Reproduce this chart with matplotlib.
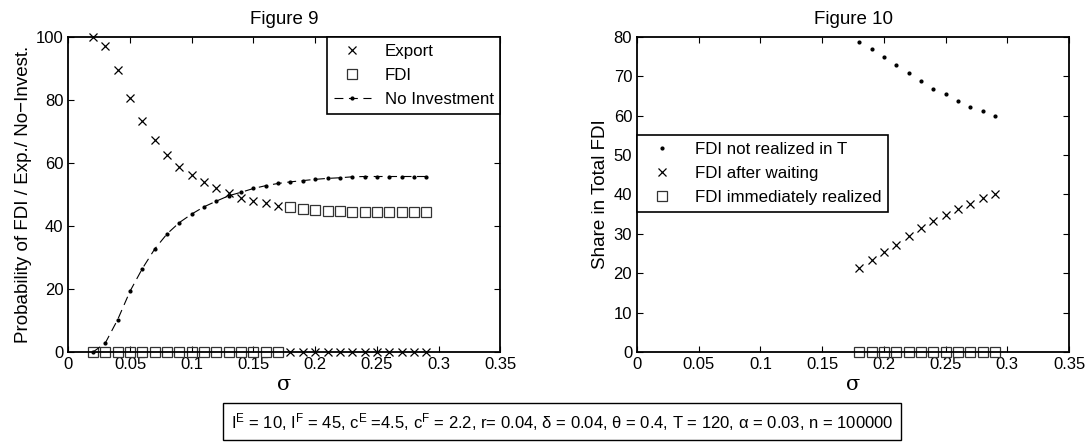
import matplotlib
matplotlib.use('Agg')
import matplotlib.pyplot as plt

plt.rcParams['font.family'] = ['Liberation Sans', 'DejaVu Sans']
plt.rcParams['mathtext.default'] = 'regular'

# Figure 9 data
sigma9 = [0.02, 0.03, 0.04, 0.05, 0.06, 0.07, 0.08, 0.09, 0.10, 0.11, 0.12, 0.13, 0.14, 0.15,
          0.16, 0.17, 0.18, 0.19, 0.20, 0.21, 0.22, 0.23, 0.24, 0.25, 0.26, 0.27, 0.28, 0.29]
export = [100, 97.0, 89.6, 80.6, 73.4, 67.2, 62.4, 58.8, 56.2, 53.8, 51.9, 50.5, 49.0, 47.9,
          47.3, 46.5, 0, 0, 0, 0, 0, 0, 0, 0, 0, 0, 0, 0]
fdi = [0, 0, 0, 0, 0, 0, 0, 0, 0, 0, 0, 0, 0, 0,
       0, 0, 45.9, 45.4, 45.1, 44.8, 44.6, 44.4, 44.3, 44.3, 44.3, 44.3, 44.3, 44.3]
no_inv = [0, 2.9, 10.3, 19.3, 26.5, 32.7, 37.5, 41.1, 43.8, 46.1, 47.9, 49.6, 50.7, 51.9,
          52.8, 53.5, 54.0, 54.4, 54.8, 55.1, 55.3, 55.6, 55.7, 55.7, 55.7, 55.7, 55.7, 55.7]

# Figure 10 data
sigma10 = [0.18, 0.19, 0.20, 0.21, 0.22, 0.23, 0.24, 0.25, 0.26, 0.27, 0.28, 0.29]
not_realized = [78.7, 76.8, 74.8, 72.9, 70.7, 68.7, 66.8, 65.4, 63.8, 62.3, 61.2, 59.8]
after_wait = [21.4, 23.3, 25.3, 27.2, 29.4, 31.4, 33.3, 34.7, 36.2, 37.7, 39.0, 40.2]
immediate = [0] * 12

xticks = [0, 0.05, 0.1, 0.15, 0.2, 0.25, 0.3, 0.35]
xticklabels = ['0', '0.05', '0.1', '0.15', '0.2', '0.25', '0.3', '0.35']

fig = plt.figure(figsize=(10.91, 4.44), dpi=100)
ax1 = fig.add_axes([0.0626, 0.207, 0.396, 0.710])
ax2 = fig.add_axes([0.5839, 0.207, 0.396, 0.710])

sq = dict(marker='s', mfc='none', mec='#333333', ms=6.5, mew=0.9, ls='none')
xs = dict(marker='x', color='black', ms=6, mew=0.9, ls='none')

ax1.plot(sigma9, export, label='Export', **xs)
ax1.plot(sigma9, fdi, label='FDI', **sq)
ax1.plot(sigma9, no_inv, color='black', ls=(0, (8, 5)), lw=0.8, marker='.', ms=4,
         label='No Investment')
ax1.set_ylim(0, 100)
ax1.set_ylabel('Probability of FDI / Exp./ No\u2212Invest.', fontsize=13.5, labelpad=3)
ax1.set_title('Figure 9', fontsize=13.5, pad=9)
ax1.legend(loc='upper right', bbox_to_anchor=(1.0, 1.0), fontsize=12.2, fancybox=False,
           edgecolor='black', framealpha=1, borderaxespad=0, handlelength=2.2,
           handletextpad=0.8, labelspacing=0.55)
ax1.get_legend().get_frame().set_linewidth(1.2)

ax2.plot(sigma10, not_realized, color='black', marker='.', ms=4, ls='none',
         label='FDI not realized in T')
ax2.plot(sigma10, after_wait, label='FDI after waiting', **xs)
ax2.plot(sigma10, immediate, label='FDI immediately realized', **sq)
ax2.set_ylim(0, 80)
ax2.set_ylabel('Share in Total FDI', fontsize=13.5, labelpad=3)
ax2.set_title('Figure 10', fontsize=13.5, pad=9)
ax2.legend(loc='upper left', bbox_to_anchor=(0.0, 0.689), fontsize=12.2, fancybox=False,
           edgecolor='black', framealpha=1, borderaxespad=0, handlelength=2.2,
           handletextpad=0.8, labelspacing=0.55)
ax2.get_legend().get_frame().set_linewidth(1.2)

for ax in (ax1, ax2):
    ax.set_xlim(0, 0.35)
    ax.set_xticks(xticks)
    ax.set_xticklabels(xticklabels)
    ax.set_xlabel('\u03c3', fontsize=15, family='DejaVu Serif', labelpad=2)
    ax.tick_params(direction='in', top=True, right=True, labelsize=12, length=4, width=0.8)
    for s in ax.spines.values():
        s.set_linewidth(1.3)
    for p in ax.lines:
        p.set_clip_on(False)

fig.text(0.515, 0.05,
         'I$^{E}$ = 10, I$^{F}$ = 45, c$^{E}$ =4.5, c$^{F}$ = 2.2, r= 0.04, \u03b4 = 0.04, '
         '\u03b8 = 0.4, T = 120, \u03b1 = 0.03, n = 100000',
         ha='center', va='center', fontsize=12,
         bbox=dict(boxstyle='square,pad=0.45', fc='white', ec='black', lw=1.0))

fig.savefig('out.png', dpi=100)
